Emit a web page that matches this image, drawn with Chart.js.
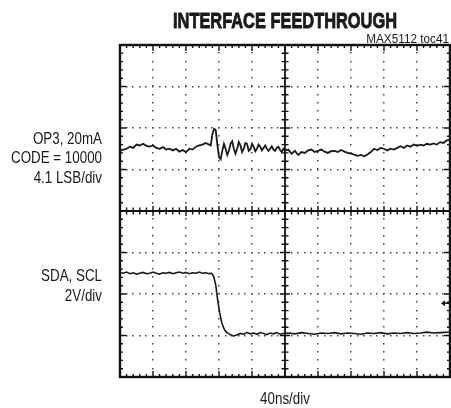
<!DOCTYPE html>
<html>
<head>
<meta charset="utf-8">
<script src="https://cdn.jsdelivr.net/npm/chart.js@4.4.1/dist/chart.umd.min.js"></script>
<style>
  html, body { margin: 0; padding: 0; background: #fff; }
  #grafico { display: block; }
</style>
</head>
<body>
<canvas id="grafico" width="451" height="408"></canvas>
<script>
// divisions of the scope screen
const divX = 10;
const divY = 8;

// OP3 trace (x and y in divisions, y from bottom)
const xTopo = [0, 0.1, 0.2, 0.3, 0.4, 0.5, 0.6, 0.7, 0.8, 0.9, 1.0, 1.1, 1.2, 1.3, 1.4, 1.5, 1.6, 1.7, 1.8, 1.9,
  2.0, 2.1, 2.2, 2.3, 2.4, 2.5, 2.6, 2.7, 2.75, 2.8, 2.85, 2.9, 2.95, 3.0, 3.05, 3.1, 3.15, 3.2, 3.25, 3.3,
  3.35, 3.4, 3.45, 3.5, 3.55, 3.6, 3.65, 3.7, 3.75, 3.8, 3.85, 3.9, 3.95, 4.0, 4.05, 4.1, 4.15, 4.2, 4.25, 4.3,
  4.35, 4.4, 4.45, 4.5, 4.55, 4.6, 4.65, 4.7, 4.75, 4.8, 4.85, 4.9, 4.95, 5.0, 5.1, 5.2, 5.3, 5.4, 5.5, 5.6,
  5.7, 5.8, 5.9, 6.0, 6.1, 6.2, 6.3, 6.4, 6.5, 6.6, 6.7, 6.8, 6.9, 7.0, 7.1, 7.2, 7.3, 7.4, 7.5, 7.6,
  7.7, 7.8, 7.9, 8.0, 8.1, 8.2, 8.3, 8.4, 8.5, 8.6, 8.7, 8.8, 8.9, 9.0, 9.1, 9.2, 9.3, 9.4, 9.5, 9.6,
  9.7, 9.8, 9.9, 10];
const yTopo = [5.45, 5.48, 5.5, 5.55, 5.52, 5.6, 5.58, 5.62, 5.57, 5.55, 5.58, 5.52, 5.5, 5.54, 5.48, 5.5, 5.46, 5.5, 5.43, 5.47,
  5.42, 5.5, 5.48, 5.55, 5.58, 5.6, 5.64, 5.6, 5.58, 5.85, 5.98, 5.95, 5.6, 5.3, 5.25, 5.45, 5.62, 5.5, 5.35, 5.45,
  5.62, 5.68, 5.5, 5.38, 5.5, 5.66, 5.58, 5.42, 5.5, 5.64, 5.62, 5.45, 5.48, 5.62, 5.55, 5.44, 5.5, 5.6, 5.55, 5.46,
  5.52, 5.58, 5.5, 5.45, 5.5, 5.56, 5.48, 5.45, 5.52, 5.55, 5.47, 5.42, 5.5, 5.46, 5.48, 5.38, 5.45, 5.35, 5.42, 5.4,
  5.46, 5.48, 5.42, 5.45, 5.48, 5.43, 5.4, 5.44, 5.45, 5.42, 5.47, 5.43, 5.4, 5.38, 5.36, 5.33, 5.35, 5.32, 5.36, 5.42,
  5.5, 5.47, 5.52, 5.5, 5.46, 5.5, 5.48, 5.52, 5.56, 5.52, 5.58, 5.55, 5.6, 5.57, 5.6, 5.58, 5.62, 5.6, 5.63, 5.6,
  5.66, 5.64, 5.7, 5.72];

// SDA/SCL trace
const xBaixo = [0, 0.1, 0.2, 0.3, 0.4, 0.5, 0.6, 0.7, 0.8, 0.9, 1.0, 1.1, 1.2, 1.3, 1.4, 1.5, 1.6, 1.7, 1.8, 1.9,
  2.0, 2.1, 2.2, 2.3, 2.4, 2.5, 2.6, 2.7, 2.78, 2.84, 2.9, 2.96, 3.02, 3.08, 3.14, 3.2, 3.28, 3.36, 3.45, 3.55,
  3.65, 3.75, 3.85, 3.95, 4.05, 4.15, 4.25, 4.35, 4.45, 4.55, 4.65, 4.75, 4.85, 4.95, 5.1, 5.3, 5.5, 5.7, 5.9, 6.1,
  6.3, 6.5, 6.7, 6.9, 7.1, 7.3, 7.5, 7.7, 7.9, 8.1, 8.3, 8.5, 8.7, 8.9, 9.1, 9.3, 9.5, 9.7, 9.9, 10];
const yBaixo = [2.52, 2.5, 2.53, 2.49, 2.51, 2.48, 2.5, 2.52, 2.49, 2.5, 2.53, 2.5, 2.48, 2.51, 2.5, 2.52, 2.49, 2.51, 2.53, 2.5,
  2.52, 2.49, 2.51, 2.5, 2.53, 2.5, 2.51, 2.49, 2.5, 2.42, 2.22, 1.85, 1.55, 1.32, 1.18, 1.1, 1.05, 1.01, 0.99, 1.02,
  1.05, 1.03, 1.07, 1.04, 1.06, 1.03, 1.07, 1.05, 1.02, 1.06, 1.04, 1.07, 1.03, 1.05, 1.06, 1.04, 1.07, 1.05, 1.03, 1.06,
  1.05, 1.07, 1.04, 1.06, 1.05, 1.03, 1.06, 1.05, 1.07, 1.04, 1.06, 1.05, 1.07, 1.05, 1.06, 1.08, 1.06, 1.07, 1.08, 1.08];

// ground marker of the lower channel (divisions)
const marcador = 1.78;

// texts
const titulo = 'INTERFACE FEEDTHROUGH';
const codigo = 'MAX5112 toc41';
const rotulosTopo = ['OP3, 20mA', 'CODE = 10000', '4.1 LSB/div'];
const rotulosBaixo = ['SDA, SCL', '2V/div'];
const rotuloX = '40ns/div';

const pontos = (xs, ys) => xs.map((x, i) => ({ x: x, y: ys[i] }));

// narrow text (the original uses a condensed face)
function textoEstreito(ctx, txt, x, y, fonte, escala, alinhar, traco) {
    ctx.save();
    ctx.font = fonte;
    ctx.translate(x, y);
    ctx.scale(escala, 1);
    ctx.textAlign = alinhar;
    ctx.textBaseline = 'alphabetic';
    ctx.fillStyle = '#1a1a1a';
    ctx.fillText(txt, 0, 0);
    if (traco) {
        ctx.strokeStyle = '#1a1a1a';
        ctx.lineWidth = traco;
        ctx.lineJoin = 'round';
        ctx.strokeText(txt, 0, 0);
    }
    ctx.restore();
}

const gradePlugin = {
    id: 'grade',
    beforeDatasetsDraw(chart) {
        const ctx = chart.ctx;
        const sx = chart.scales.x;
        const sy = chart.scales.y;
        const L = sx.getPixelForValue(0), R = sx.getPixelForValue(divX);
        const T = sy.getPixelForValue(divY), B = sy.getPixelForValue(0);
        const cx = sx.getPixelForValue(divX / 2), cy = sy.getPixelForValue(divY / 2);
        ctx.save();
        ctx.fillStyle = '#444';
        // dotted grid
        for (let i = 1; i < divX; i++) {
            if (i === divX / 2) continue;
            const px = sx.getPixelForValue(i);
            for (let v = 0.2; v < divY; v += 0.2) {
                ctx.fillRect(Math.round(px) - 1, Math.round(sy.getPixelForValue(v)) - 1, 1.5, 1.5);
            }
        }
        for (let j = 1; j < divY; j++) {
            if (j === divY / 2) continue;
            const py = sy.getPixelForValue(j);
            for (let v = 0.2; v < divX; v += 0.2) {
                ctx.fillRect(Math.round(sx.getPixelForValue(v)) - 1, Math.round(py) - 1, 1.5, 1.5);
            }
        }
        ctx.strokeStyle = '#111';
        // center cross
        ctx.lineWidth = 1.8;
        ctx.beginPath();
        ctx.moveTo(cx, T); ctx.lineTo(cx, B);
        ctx.moveTo(L, cy); ctx.lineTo(R, cy);
        ctx.stroke();
        ctx.lineWidth = 1.4;
        ctx.beginPath();
        for (let v = 0.2; v < divX; v += 0.2) {
            const px = sx.getPixelForValue(v);
            const maior = Math.abs(v - Math.round(v)) < 0.01;
            const h = maior ? 5 : 3.5;
            ctx.moveTo(px, cy - h); ctx.lineTo(px, cy + h);
            const e = maior ? 6 : 3;
            ctx.moveTo(px, T); ctx.lineTo(px, T + e);
            ctx.moveTo(px, B); ctx.lineTo(px, B - e);
        }
        for (let v = 0.2; v < divY; v += 0.2) {
            const py = sy.getPixelForValue(v);
            const maior = Math.abs(v - Math.round(v)) < 0.01;
            const h = maior ? 5 : 3.5;
            ctx.moveTo(cx - h, py); ctx.lineTo(cx + h, py);
            const e = maior ? 6 : 3;
            ctx.moveTo(L, py); ctx.lineTo(L + e, py);
            ctx.moveTo(R, py); ctx.lineTo(R - e, py);
        }
        ctx.stroke();
        // frame
        ctx.lineWidth = 2.4;
        ctx.strokeRect(L, T, R - L, B - T);
        // ground marker arrow
        const my = sy.getPixelForValue(marcador);
        ctx.lineWidth = 1.6;
        ctx.beginPath();
        ctx.moveTo(R - 7, my); ctx.lineTo(R, my);
        ctx.stroke();
        ctx.beginPath();
        ctx.moveTo(R - 9, my); ctx.lineTo(R - 5, my - 3); ctx.lineTo(R - 5, my + 3);
        ctx.closePath();
        ctx.fillStyle = '#111';
        ctx.fill();
        ctx.restore();
    },
    afterDraw(chart) {
        const ctx = chart.ctx;
        const cx = chart.scales.x.getPixelForValue(divX / 2);
        ctx.font = 'bold 22px "Liberation Sans"';
        const escTitulo = 224 / ctx.measureText(titulo).width;
        textoEstreito(ctx, titulo, cx, 28, 'bold 22px "Liberation Sans"', escTitulo, 'center', 0.9);
        textoEstreito(ctx, codigo, 449, 43, '12px "Liberation Sans"', 0.98, 'right');
        const baseTopo = [144, 163, 182.5];
        rotulosTopo.forEach((t, i) => textoEstreito(ctx, t, 102, baseTopo[i], '16.5px "Liberation Sans"', 0.81, 'right'));
        const baseBaixo = [280.5, 301];
        rotulosBaixo.forEach((t, i) => textoEstreito(ctx, t, 102, baseBaixo[i], '16.5px "Liberation Sans"', 0.81, 'right'));
        textoEstreito(ctx, rotuloX, cx, 404, '16.5px "Liberation Sans"', 0.81, 'center');
    }
};

new Chart(document.getElementById('grafico').getContext('2d'), {
    type: 'line',
    data: {
        datasets: [
            { data: pontos(xTopo, yTopo), borderColor: '#1a1a1a', borderWidth: 1.8, pointRadius: 0, tension: 0 },
            { data: pontos(xBaixo, yBaixo), borderColor: '#1a1a1a', borderWidth: 1.6, pointRadius: 0, tension: 0 }
        ]
    },
    options: {
        responsive: false,
        animation: false,
        layout: { padding: { left: 120, top: 45, right: 1, bottom: 31 } },
        plugins: { legend: { display: false }, tooltip: { enabled: false }, title: { display: false } },
        scales: {
            x: { type: 'linear', min: 0, max: divX, display: false },
            y: { type: 'linear', min: 0, max: divY, display: false }
        }
    },
    plugins: [gradePlugin]
});
</script>
</body>
</html>
